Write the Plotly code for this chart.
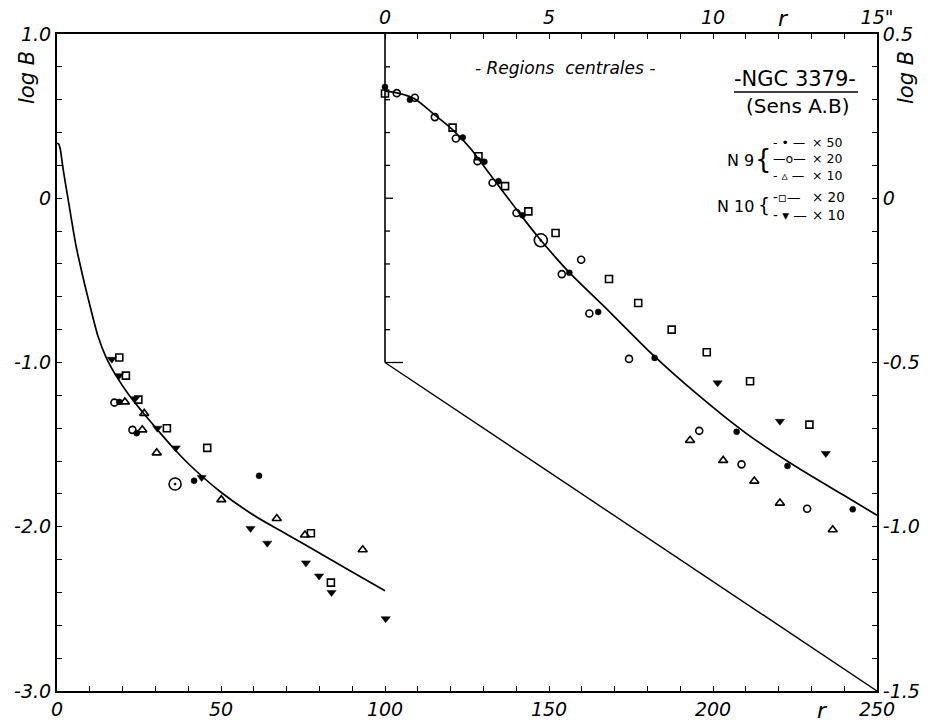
import plotly.graph_objects as go

# ---------------- data ----------------
# main panel: bottom axis r (0-250), left axis log B (-3 .. 1)
curve_r = [0, 0.5, 1.0, 1.5, 2, 3, 4, 5, 6, 7, 8.5, 10, 12.5, 15, 18, 22, 26, 30, 35, 40,
           50, 60, 70, 80, 90, 100]
curve_logB = [0.335, 0.33, 0.30, 0.23, 0.16, 0.04, -0.08, -0.20, -0.31, -0.40, -0.53, -0.65,
              -0.84, -0.97, -1.08, -1.20, -1.30, -1.395, -1.51, -1.615,
              -1.79, -1.93, -2.045, -2.16, -2.275, -2.39]

main_n9_x50_r = [19.0, 24.3, 41.8, 61.6]
main_n9_x50_B = [-1.24, -1.43, -1.72, -1.69]
main_n9_x20_r = [17.5, 23.0]
main_n9_x20_B = [-1.244, -1.41]
main_n9_x10_r = [20.7, 26.6, 26.0, 30.4, 50.1, 67.0, 75.6, 93.2]
main_n9_x10_B = [-1.24, -1.31, -1.41, -1.55, -1.835, -1.95, -2.05, -2.14]
main_n10_x20_r = [19.0, 21.0, 24.8, 33.5, 45.8, 77.4, 83.5]
main_n10_x20_B = [-0.97, -1.08, -1.226, -1.40, -1.52, -2.04, -2.34]
main_n10_x10_r = [16.7, 18.9, 23.8, 30.6, 36.2, 44.1, 59.0, 64.1, 75.9, 79.9, 83.7, 100.2]
main_n10_x10_B = [-0.98, -1.08, -1.22, -1.40, -1.52, -1.70, -2.01, -2.10, -2.22, -2.30, -2.40, -2.56]
main_special_r = [36.0]
main_special_B = [-1.74]

# inset "Regions centrales": top axis r (arcsec, 0-15), right axis log B (-1.5 .. 0.5)
inset_curve_r = [0, 0.4, 0.9, 1.5, 2.1, 2.6, 3.1, 3.6, 4.1, 4.7, 5.2, 5.6, 6.9, 8.2, 9.5,
                 11.0, 12.5, 14.0, 15.0]
inset_curve_logB = [0.326, 0.32, 0.303, 0.255, 0.205, 0.152, 0.086, 0.020, -0.046, -0.122,
                    -0.180, -0.224, -0.351, -0.480, -0.595, -0.715, -0.815, -0.905, -0.965]

inset_n9_x50_r = [0, 0.76, 2.37, 3.03, 3.46, 4.19, 5.62, 6.50, 8.22, 10.72, 12.27, 14.26]
inset_n9_x50_B = [0.339, 0.30, 0.185, 0.111, 0.052, -0.052, -0.227, -0.346, -0.486, -0.711,
                  -0.815, -0.947]
inset_n9_x20_r = [0.36, 0.91, 1.52, 2.16, 2.82, 3.28, 4.01, 5.39, 5.98, 6.23, 7.44, 9.58,
                  10.87, 12.87]
inset_n9_x20_B = [0.32, 0.306, 0.247, 0.182, 0.113, 0.047, -0.045, -0.231, -0.187, -0.351,
                  -0.489, -0.708, -0.810, -0.945]
inset_n9_x10_r = [9.30, 10.31, 11.26, 12.04, 13.65]
inset_n9_x10_B = [-0.737, -0.798, -0.861, -0.928, -1.009]
inset_n10_x20_r = [0, 2.06, 2.85, 3.66, 4.37, 5.20, 6.83, 7.72, 8.74, 9.81, 11.13, 12.94]
inset_n10_x20_B = [0.319, 0.215, 0.128, 0.037, -0.040, -0.106, -0.246, -0.319, -0.400,
                   -0.469, -0.557, -0.689]
inset_n10_x10_r = [10.14, 12.04, 13.44]
inset_n10_x10_B = [-0.562, -0.679, -0.777]
inset_special_r = [4.75]
inset_special_B = [-0.128]

bottom_ticks = list(range(0, 251, 10))
bottom_labels = {0: "0", 50: "50", 100: "100", 150: "150", 200: "200", 250: "250"}
top_ticks = list(range(0, 16))
top_labels = {0: "0", 5: "5", 10: "10", 15: "15\""}
left_ticks = [round(-3 + 0.2 * k, 1) for k in range(21)]
left_labels = {1.0: "1.0", 0.0: "0", -1.0: "-1.0", -2.0: "-2.0", -3.0: "-3.0"}
right_ticks = [round(-1.5 + 0.1 * k, 1) for k in range(21)]
right_labels = {0.5: "0.5", 0.0: "0", -0.5: "-0.5", -1.0: "-1.0", -1.5: "-1.5"}
inset_ticks = [round(0.4 - 0.1 * k, 1) for k in range(9)]

legend_n9_symbols = ["- • —", "—o—", "- ▵ —"]
legend_n9_labels = ["× 50", "× 20", "× 10"]
legend_n10_symbols = ["-▫—", "- ▾ —"]
legend_n10_labels = ["× 20", "× 10"]

# ---------------- figure ----------------
FONT = "DejaVu Sans"
W, H = 930, 728
L, R, T, B = 57, 877, 34, 691  # plot area in page pixels


def px(xp):
    return (xp - L) / (R - L)


def py(yp):
    return (B - yp) / (B - T)


fig = go.Figure()
line_style = dict(color="black", width=1.7)

fig.add_trace(go.Scatter(x=curve_r, y=curve_logB, mode="lines",
                         line=dict(shape="spline", smoothing=0.8, **line_style),
                         xaxis="x", yaxis="y", showlegend=False, hoverinfo="skip"))
fig.add_trace(go.Scatter(x=inset_curve_r, y=inset_curve_logB, mode="lines",
                         line=dict(shape="spline", smoothing=0.8, **line_style),
                         xaxis="x2", yaxis="y2", showlegend=False, hoverinfo="skip"))


def pts(xs, ys, symbol, size, xa, ya, lw=1.6):
    fig.add_trace(go.Scatter(x=xs, y=ys, mode="markers", xaxis=xa, yaxis=ya, showlegend=False,
                             marker=dict(symbol=symbol, size=size, color="black",
                                         line=dict(color="black", width=lw))))


pts(main_n9_x50_r, main_n9_x50_B, "circle", 6, "x", "y", lw=0.5)
pts(main_n9_x20_r, main_n9_x20_B, "circle-open", 7, "x", "y")
pts(main_n9_x10_r, main_n9_x10_B, "triangle-up-open", 8, "x", "y")
pts(main_n10_x20_r, main_n10_x20_B, "square-open", 7, "x", "y")
pts(main_n10_x10_r, main_n10_x10_B, "triangle-down", 8, "x", "y", lw=0.5)
pts(main_special_r, main_special_B, "circle-open-dot", 12, "x", "y")

pts(inset_n9_x50_r, inset_n9_x50_B, "circle", 6, "x2", "y2", lw=0.5)
pts(inset_n9_x20_r, inset_n9_x20_B, "circle-open", 7, "x2", "y2")
pts(inset_n9_x10_r, inset_n9_x10_B, "triangle-up-open", 8, "x2", "y2")
pts(inset_n10_x20_r, inset_n10_x20_B, "square-open", 7, "x2", "y2")
pts(inset_n10_x10_r, inset_n10_x10_B, "triangle-down", 8, "x2", "y2", lw=0.5)
pts(inset_special_r, inset_special_B, "circle-open-dot", 13, "x2", "y2")

tickfont = dict(family=FONT, size=19, color="black")
axis_common = dict(showgrid=False, zeroline=False, showline=True, linecolor="black", linewidth=2,
                   ticks="inside", ticklen=5, tickwidth=1.3, tickcolor="black", tickfont=tickfont,
                   automargin=False)

fig.update_layout(
    width=W, height=H, plot_bgcolor="white", paper_bgcolor="white",
    margin=dict(l=L, r=W - R, t=T, b=H - B, autoexpand=False),
    xaxis=dict(range=[0, 250], tickmode="array", tickvals=bottom_ticks,
               ticktext=[f"<i>{bottom_labels[t]}</i>" if t in bottom_labels else "" for t in bottom_ticks],
               **axis_common),
    xaxis2=dict(range=[-10, 15], overlaying="x", side="top", tickmode="array", tickvals=top_ticks,
                ticktext=[f"<i>{top_labels[t]}</i>" if t in top_labels else "" for t in top_ticks],
                **axis_common),
    yaxis=dict(range=[-3, 1], tickmode="array", tickvals=left_ticks,
               ticktext=[f"<i>{left_labels[t]}</i>" if t in left_labels else "" for t in left_ticks],
               **axis_common),
    yaxis2=dict(range=[-1.5, 0.5], overlaying="y", side="right", tickmode="array", tickvals=right_ticks,
                ticktext=[f"<i>{right_labels[t]}</i>" if t in right_labels else "" for t in right_ticks],
                **axis_common),
)

# inset frame: vertical edge at r = 100 down to log B = -1.0, then slanted edge
fig.add_shape(type="line", xref="x", yref="y", x0=100, y0=1.0, x1=100, y1=-1.0,
              line=dict(color="black", width=1.6))
fig.add_shape(type="line", xref="x", yref="y", x0=100, y0=-1.0, x1=250, y1=-3.0,
              line=dict(color="black", width=1.4))
for t in inset_ticks + [-0.5]:
    ln = 18 if t == -0.5 else (8 if t == 0 else 5)
    fig.add_shape(type="line", xref="x2", yref="y2", xsizemode="pixel", xanchor=0,
                  x0=0, x1=ln, y0=t, y1=t, line=dict(color="black", width=1.3))

ann = []


def text(x, y, s, size=18, italic=True, angle=0, xanchor="center", align="center"):
    ann.append(dict(x=px(x), y=py(y), xref="paper", yref="paper", text=(f"<i>{s}</i>" if italic else s),
                    showarrow=False, textangle=angle, xanchor=xanchor, yanchor="middle", align=align,
                    font=dict(family=FONT, size=size, color="black")))


text(27, 78, "log B", size=21, angle=-90)
text(906, 78, "log B", size=21, angle=-90)
text(783, 18, "r", size=22)
text(822, 710, "r", size=22)
text(565, 68, "- Regions  centrales -", size=17)
text(795, 79, "-NGC 3379-", size=21, italic=False)
text(797, 106, "(Sens A.B)", size=20, italic=False)
fig.add_shape(type="line", xref="paper", yref="paper", x0=px(734), x1=px(858), y0=py(92), y1=py(92),
              line=dict(color="black", width=1.4))

# legend block
text(756, 160, "N 9", size=16, italic=False, xanchor="right")
text(763, 159, "{", size=26, italic=False)
text(756, 206, "N 10", size=16, italic=False, xanchor="right")
text(764, 205, "{", size=19, italic=False)
text(771, 159, "<br>".join(legend_n9_symbols), size=12.5, italic=False, xanchor="left", align="left")
text(810, 159, "<br>".join(legend_n9_labels), size=12.5, italic=False, xanchor="left", align="left")
text(771, 206, "<br>".join(legend_n10_symbols), size=13.5, italic=False, xanchor="left", align="left")
text(810, 206, "<br>".join(legend_n10_labels), size=13.5, italic=False, xanchor="left", align="left")

fig.update_layout(annotations=ann)
fig.write_html("out.html", config={"displayModeBar": False},
               post_script="document.body.style.margin='0px';")
